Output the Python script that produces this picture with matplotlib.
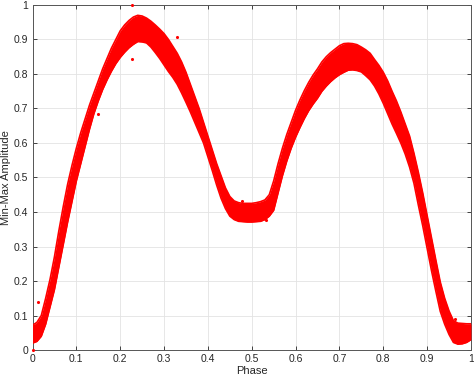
import matplotlib
matplotlib.use('Agg')
import matplotlib.pyplot as plt

# envelope of the folded light curve
phase = [0.00, 0.01, 0.02, 0.03, 0.04, 0.05, 0.06, 0.07, 0.08, 0.09,
         0.10, 0.11, 0.12, 0.13, 0.14, 0.15, 0.16, 0.17, 0.18, 0.19,
         0.20, 0.21, 0.22, 0.23, 0.24, 0.25, 0.26, 0.27, 0.28, 0.29,
         0.30, 0.31, 0.32, 0.33, 0.34, 0.35, 0.36, 0.37, 0.38, 0.39,
         0.40, 0.41, 0.42, 0.43, 0.44, 0.45, 0.46, 0.47, 0.48, 0.49,
         0.50, 0.51, 0.52, 0.53, 0.54, 0.55, 0.56, 0.57, 0.58, 0.59,
         0.60, 0.61, 0.62, 0.63, 0.64, 0.65, 0.66, 0.67, 0.68, 0.69,
         0.70, 0.71, 0.72, 0.73, 0.74, 0.75, 0.76, 0.77, 0.78, 0.79,
         0.80, 0.81, 0.82, 0.83, 0.84, 0.85, 0.86, 0.87, 0.88, 0.89,
         0.90, 0.91, 0.92, 0.93, 0.94, 0.95, 0.96, 0.97, 0.98, 0.99,
         1.00]
upper = [0.072, 0.080, 0.100, 0.150, 0.205, 0.270, 0.345, 0.415, 0.480, 0.535,
         0.585, 0.630, 0.670, 0.710, 0.745, 0.780, 0.815, 0.845, 0.875, 0.900,
         0.925, 0.942, 0.955, 0.965, 0.970, 0.968, 0.962, 0.953, 0.942, 0.930,
         0.917, 0.900, 0.880, 0.860, 0.835, 0.805, 0.770, 0.735, 0.700, 0.660,
         0.620, 0.580, 0.540, 0.505, 0.470, 0.445, 0.432, 0.427, 0.425, 0.425,
         0.425, 0.427, 0.430, 0.435, 0.450, 0.490, 0.540, 0.585, 0.625, 0.660,
         0.695, 0.725, 0.752, 0.776, 0.797, 0.815, 0.835, 0.850, 0.862, 0.872,
         0.882, 0.888, 0.889, 0.888, 0.885, 0.878, 0.870, 0.860, 0.842, 0.825,
         0.805, 0.780, 0.750, 0.722, 0.690, 0.655, 0.620, 0.570, 0.515, 0.455,
         0.390, 0.325, 0.260, 0.197, 0.150, 0.113, 0.085, 0.078, 0.077, 0.076,
         0.076]
lower = [0.020, 0.025, 0.040, 0.075, 0.125, 0.175, 0.240, 0.305, 0.370, 0.430,
         0.490, 0.540, 0.590, 0.640, 0.685, 0.722, 0.755, 0.783, 0.808, 0.830,
         0.848, 0.863, 0.876, 0.886, 0.894, 0.893, 0.890, 0.878, 0.862, 0.845,
         0.826, 0.807, 0.790, 0.770, 0.745, 0.718, 0.690, 0.660, 0.630, 0.600,
         0.560, 0.520, 0.478, 0.440, 0.410, 0.388, 0.378, 0.373, 0.372, 0.371,
         0.371, 0.372, 0.373, 0.378, 0.388, 0.405, 0.455, 0.505, 0.548, 0.585,
         0.617, 0.645, 0.671, 0.694, 0.713, 0.730, 0.750, 0.765, 0.778, 0.789,
         0.798, 0.805, 0.811, 0.812, 0.810, 0.806, 0.795, 0.783, 0.765, 0.742,
         0.715, 0.685, 0.655, 0.628, 0.600, 0.568, 0.530, 0.483, 0.420, 0.360,
         0.295, 0.230, 0.170, 0.112, 0.075, 0.045, 0.022, 0.017, 0.018, 0.022,
         0.030]

# stray points
out_x = [0.226, 0.226, 0.329, 0.149, 0.012, 0.478, 0.533, 0.964, 0.0]
out_y = [1.000, 0.843, 0.906, 0.684, 0.140, 0.432, 0.377, 0.091, 0.0]

ticks = [0, 0.1, 0.2, 0.3, 0.4, 0.5, 0.6, 0.7, 0.8, 0.9, 1]
tick_labels = ['0', '0.1', '0.2', '0.3', '0.4', '0.5', '0.6', '0.7', '0.8', '0.9', '1']

plt.rcParams['font.family'] = ['Liberation Sans', 'DejaVu Sans']

fig = plt.figure(figsize=(4.74, 3.80), dpi=100)
ax = fig.add_axes([0.0686, 0.0789, 0.925, 0.908])

red = '#ff0000'
ax.fill_between(phase, lower, upper, color=red, linewidth=0, zorder=3)
ax.plot(phase, upper, color=red, lw=1.2, zorder=3, solid_joinstyle='round')
ax.plot(phase, lower, color=red, lw=1.2, zorder=3, solid_joinstyle='round')
ax.scatter(out_x, out_y, s=5, color=red, linewidths=0, zorder=4, clip_on=False)

ax.set_xlim(0, 1)
ax.set_ylim(0, 1)
ax.set_xticks(ticks)
ax.set_xticklabels(tick_labels)
ax.set_yticks(ticks)
ax.set_yticklabels(tick_labels)
ax.grid(True, color='#e3e3e3', lw=0.6, zorder=0)
ax.set_axisbelow(True)
ax.tick_params(direction='in', top=True, right=True, length=3, width=0.6,
               labelsize=7.5, colors='#262626', pad=3)
for s in ax.spines.values():
    s.set_color('#555555')
    s.set_linewidth(0.7)
ax.set_xlabel('Phase', fontsize=8, color='#262626', labelpad=1)
ax.set_ylabel('Min-Max Amplitude', fontsize=8, color='#262626', labelpad=2)

plt.savefig('out.png', dpi=100)
